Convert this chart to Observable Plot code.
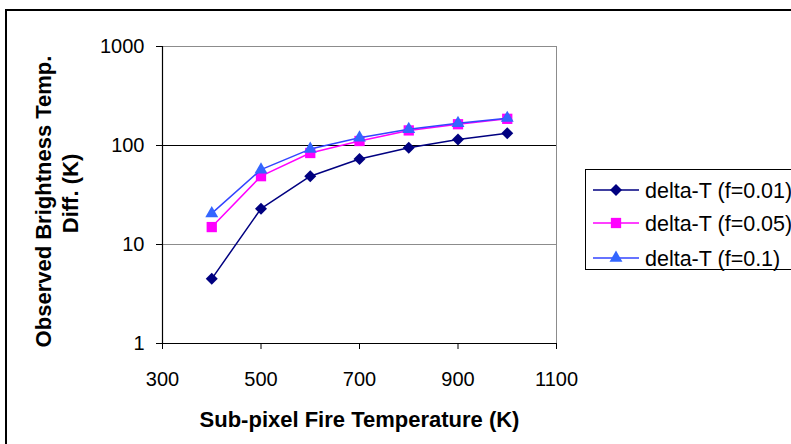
<!DOCTYPE html>
<html>
<head>
<meta charset="utf-8">
<script src="https://cdn.jsdelivr.net/npm/d3@7"></script>
<script src="https://cdn.jsdelivr.net/npm/@observablehq/plot@0.6"></script>
<style>
  html, body { margin: 0; padding: 0; background: #fff; }
  #chart { position: relative; width: 791px; height: 444px; overflow: hidden; background: #fff;
           font-family: "Liberation Sans", Arial, sans-serif; }
  #chart > svg { position: absolute; left: 0; top: 0; }
  #outer { position: absolute; left: 5px; top: 9px; width: 820px; height: 460px;
           border: 2px solid #000; box-sizing: border-box; pointer-events: none; }
  #legend { position: absolute; left: 585px; top: 169px; width: 240px; height: 101px;
            border: 1px solid #000; box-sizing: border-box; background: #fff; }
</style>
</head>
<body>
<div id="chart"><div id="outer"></div></div>
<script>
// Sub-pixel fire temperature (K)
const temps = [400, 500, 600, 700, 800, 900, 1000];

// Observed brightness temperature difference (K) for each fire fraction f
const dT_f001 = [4.5, 23, 49, 73, 95, 115, 133];
const dT_f005 = [15, 49, 84, 111, 142, 164, 186];
const dT_f01  = [20.6, 57, 92, 120, 146, 168, 189];

const seriesNames = ["delta-T (f=0.01)", "delta-T (f=0.05)", "delta-T (f=0.1)"];
const seriesValues = [dT_f001, dT_f005, dT_f01];

const xTicks = [300, 500, 700, 900, 1100];
const yTicks = [1, 10, 100, 1000];

const xTitle = "Sub-pixel Fire Temperature (K)";
const yTitle1 = "Observed Brightness Temp.";
const yTitle2 = "Diff. (K)";

// Look of each series: line colour, marker fill, marker shape, marker radius
const looks = [
  {stroke: "#000080", fill: "#000080", symbol: "diamond2", r: 5.4},
  {stroke: "#ff00ff", fill: "#ff00ff", symbol: "square", r: 5.8},
  {stroke: "#3344ff", fill: "#3366ff", symbol: "triangle", r: 4.8}
];

const rows = seriesNames.map((name, s) =>
  temps.map((t, i) => ({series: name, temp: t, value: seriesValues[s][i]}))
);

const FONT = "'Liberation Sans', Arial, sans-serif";

const seriesMarks = rows.flatMap((data, s) => [
  Plot.line(data, {x: "temp", y: "value", stroke: looks[s].stroke, strokeWidth: 1.5}),
  Plot.dot(data, {x: "temp", y: "value", symbol: () => looks[s].symbol, fill: looks[s].fill,
                  stroke: "none", r: looks[s].r})
]);

const chart = Plot.plot({
  width: 791,
  height: 444,
  marginLeft: 162,
  marginRight: 235,
  marginTop: 46,
  marginBottom: 101,
  style: {fontFamily: FONT, color: "#000", background: "transparent", overflow: "visible"},
  x: {domain: [300, 1100]},
  y: {type: "log", domain: [1, 1000]},
  symbol: {type: "identity"},
  marks: [
    // gridlines and plot-area edges
    Plot.ruleY(yTicks.filter(d => d === 10 || d === 1000), {stroke: "#8c8c8c", strokeWidth: 1}),
    Plot.ruleY(yTicks.filter(d => d === 100), {stroke: "#000", strokeWidth: 1}),
    Plot.ruleX([xTicks[xTicks.length - 1]], {stroke: "#8c8c8c", strokeWidth: 1}),
    Plot.ruleX([xTicks[0]], {stroke: "#000", strokeWidth: 1.2}),
    Plot.ruleY([yTicks[0]], {stroke: "#000", strokeWidth: 1.2}),
    // axes
    Plot.axisX({ticks: xTicks, tickSize: 6, tickPadding: 22, fontSize: 20, label: null,
                tickFormat: d3.format("d")}),
    Plot.axisY({ticks: yTicks, tickSize: 6, tickPadding: 12, fontSize: 20, label: null,
                tickFormat: d3.format("d")}),
    // axis titles
    Plot.text([xTitle], {frameAnchor: "bottom", lineAnchor: "top", dy: 68,
                         fontSize: 22, fontWeight: "bold"}),
    Plot.text([yTitle1], {frameAnchor: "left", textAnchor: "middle", rotate: -90,
                          dx: -118.7, dy: 6.5, fontSize: 22, fontWeight: "bold"}),
    Plot.text([yTitle2], {frameAnchor: "left", textAnchor: "middle", rotate: -90,
                          dx: -91.7, dy: -1.5, fontSize: 22, fontWeight: "bold"}),
    ...seriesMarks
  ]
});

const root = document.getElementById("chart");
root.insertBefore(chart, root.firstChild);

// Legend: line sample with marker, then series name
const legend = document.createElement("div");
legend.id = "legend";
root.appendChild(legend);
const lsvg = d3.select(legend).append("svg")
  .attr("width", 240).attr("height", 101)
  .style("font-family", FONT);
const rowY = [20, 53, 88];
const symbolTypes = {diamond2: d3.symbolDiamond2, square: d3.symbolSquare, triangle: d3.symbolTriangle};
seriesNames.forEach((name, s) => {
  const g = lsvg.append("g").attr("transform", `translate(0,${rowY[s]})`);
  g.append("line").attr("x1", 7).attr("x2", 53).attr("y1", 0).attr("y2", 0)
    .attr("stroke", looks[s].stroke).attr("stroke-width", 1.5);
  g.append("path")
    .attr("transform", "translate(30,0)")
    .attr("d", d3.symbol(symbolTypes[looks[s].symbol], Math.PI * looks[s].r * looks[s].r)())
    .attr("fill", looks[s].fill);
  g.append("text").attr("x", 59).attr("y", 0).attr("dy", "0.36em")
    .attr("font-size", 21.5).attr("fill", "#000").text(name);
});
</script>
</body>
</html>
